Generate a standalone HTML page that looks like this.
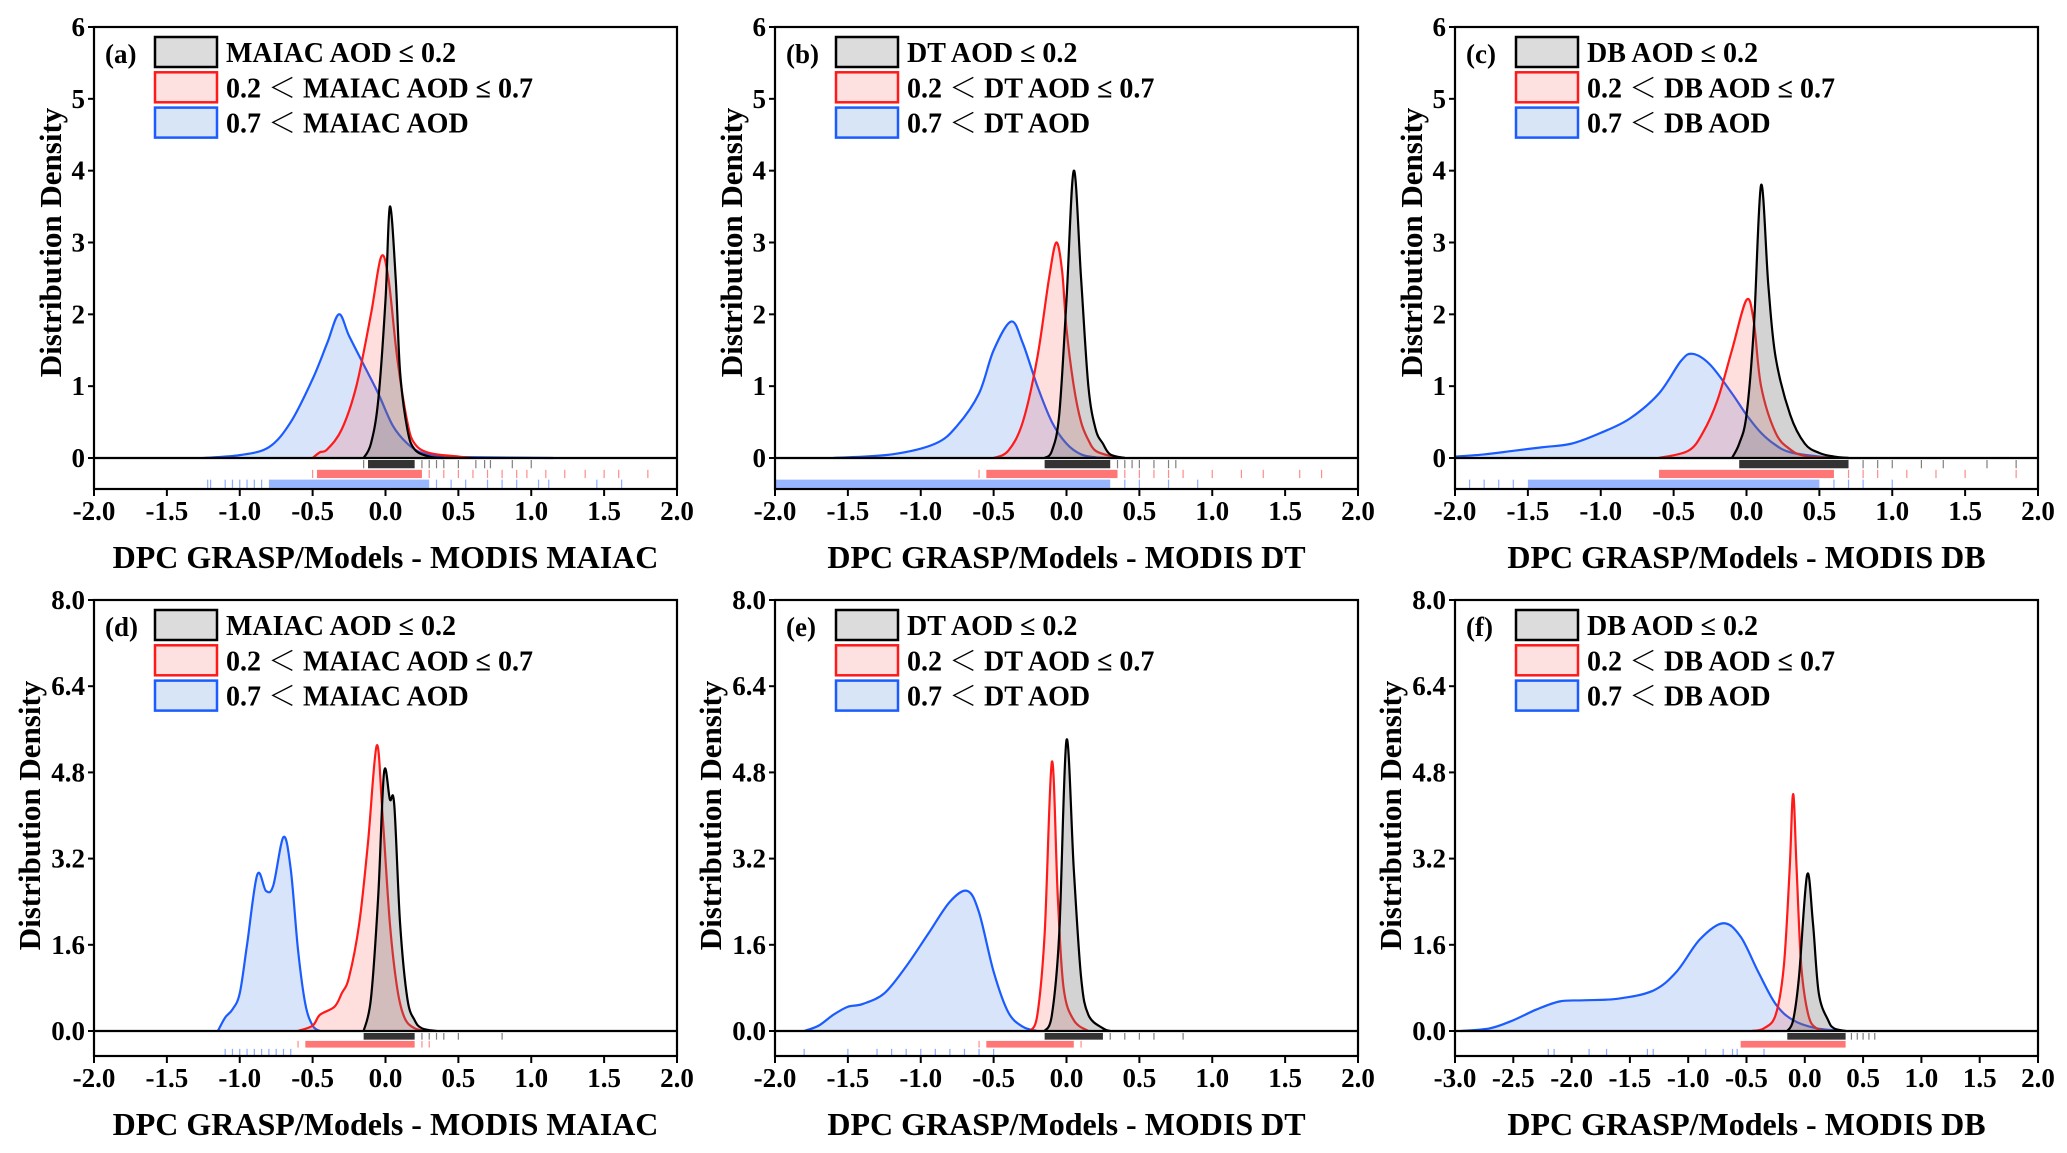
<!DOCTYPE html>
<html><head><meta charset="utf-8">
<style>
html,body{margin:0;padding:0;background:#fff;}
svg{display:block;}
text{font-family:"Liberation Serif","Noto Serif CJK SC",serif;font-weight:bold;fill:#000;}
</style></head>
<body>
<svg id="fig" width="2067" height="1153" viewBox="0 0 2067 1153" xmlns="http://www.w3.org/2000/svg"></svg>
<script>
// ---------- data ----------
const panelLabels = ["(a)","(b)","(c)","(d)","(e)","(f)"];
const productNames = ["MAIAC","DT","DB","MAIAC","DT","DB"];
const xTicksRow = [[-2,-1.5,-1,-0.5,0,0.5,1,1.5,2],[-2,-1.5,-1,-0.5,0,0.5,1,1.5,2],[-2,-1.5,-1,-0.5,0,0.5,1,1.5,2],
  [-2,-1.5,-1,-0.5,0,0.5,1,1.5,2],[-2,-1.5,-1,-0.5,0,0.5,1,1.5,2],[-3,-2.5,-2,-1.5,-1,-0.5,0,0.5,1,1.5,2]];
const yTicksTop = [0,1,2,3,4,5,6];
const yTicksBottom = [0,1.6,3.2,4.8,6.4,8.0];

// KDE curves [x, density]
const blackA=[[-0.15,0],[-0.1,0.2],[-0.05,0.8],[0,2.2],[0.03,3.5],[0.07,2.5],[0.1,1.2],[0.15,0.4],[0.2,0.12],[0.3,0.02],[0.4,0]];
const redA=[[-0.5,0],[-0.45,0.08],[-0.4,0.12],[-0.3,0.4],[-0.2,1.0],[-0.1,2.0],[-0.03,2.8],[0.02,2.5],[0.08,1.4],[0.15,0.5],[0.2,0.2],[0.3,0.07],[0.5,0.02],[0.6,0]];
const blueA=[[-1.25,0],[-1.0,0.04],[-0.8,0.15],[-0.65,0.5],[-0.5,1.1],[-0.4,1.6],[-0.32,2.0],[-0.25,1.7],[-0.15,1.3],[-0.05,0.9],[0.05,0.45],[0.15,0.2],[0.25,0.07],[0.4,0.02],[0.6,0.01],[1.15,0]];
const blackB=[[-0.15,0],[-0.1,0.1],[-0.05,0.6],[0,2.2],[0.05,4.0],[0.1,2.5],[0.15,1.0],[0.2,0.4],[0.25,0.2],[0.3,0.05],[0.4,0]];
const redB=[[-0.5,0],[-0.4,0.1],[-0.3,0.5],[-0.2,1.4],[-0.12,2.5],[-0.07,3.0],[-0.03,2.6],[0,1.8],[0.05,1.0],[0.1,0.5],[0.15,0.25],[0.2,0.1],[0.3,0.03],[0.4,0]];
const blueB=[[-1.6,0],[-1.2,0.05],[-0.9,0.2],[-0.75,0.45],[-0.6,0.9],[-0.5,1.5],[-0.38,1.9],[-0.3,1.6],[-0.2,1.0],[-0.1,0.5],[0,0.2],[0.1,0.05],[0.2,0.01],[0.3,0]];
const blackC=[[-0.1,0],[-0.05,0.2],[0,0.6],[0.05,1.8],[0.1,3.8],[0.15,2.4],[0.2,1.4],[0.3,0.6],[0.4,0.2],[0.5,0.07],[0.6,0.02],[0.7,0]];
const redC=[[-0.6,0],[-0.4,0.1],[-0.3,0.35],[-0.2,0.8],[-0.1,1.5],[0,2.2],[0.05,1.9],[0.1,1.0],[0.2,0.35],[0.3,0.12],[0.4,0.03],[0.6,0]];
const blueC=[[-2.0,0.02],[-1.8,0.05],[-1.6,0.1],[-1.4,0.15],[-1.2,0.2],[-1.0,0.35],[-0.8,0.55],[-0.6,0.9],[-0.45,1.35],[-0.37,1.45],[-0.25,1.3],[-0.1,0.9],[0,0.6],[0.1,0.35],[0.2,0.18],[0.3,0.08],[0.5,0.02],[0.7,0]];
const blackD=[[-0.15,0],[-0.1,0.6],[-0.05,2.5],[-0.01,4.8],[0.03,4.3],[0.06,4.2],[0.1,2.0],[0.15,0.6],[0.2,0.2],[0.25,0.05],[0.35,0]];
const redD=[[-0.6,0],[-0.5,0.1],[-0.45,0.3],[-0.35,0.45],[-0.3,0.7],[-0.25,1.0],[-0.18,2.0],[-0.12,3.5],[-0.06,5.3],[-0.02,4.0],[0.03,2.0],[0.08,0.8],[0.13,0.25],[0.2,0.05],[0.3,0]];
const blueD=[[-1.15,0],[-1.1,0.25],[-1.05,0.4],[-1.0,0.7],[-0.95,1.6],[-0.88,2.9],[-0.82,2.6],[-0.77,2.7],[-0.7,3.6],[-0.65,3.0],[-0.6,1.5],[-0.55,0.5],[-0.5,0.1],[-0.45,0]];
const blackE=[[-0.15,0],[-0.1,0.3],[-0.05,1.8],[0,5.4],[0.05,3.0],[0.1,1.0],[0.15,0.3],[0.25,0.05],[0.3,0]];
const redE=[[-0.25,0],[-0.2,0.3],[-0.15,1.8],[-0.1,5.0],[-0.06,2.5],[-0.02,0.8],[0.05,0.2],[0.15,0]];
const blueE=[[-1.8,0],[-1.7,0.1],[-1.6,0.3],[-1.5,0.45],[-1.4,0.5],[-1.25,0.7],[-1.1,1.2],[-0.95,1.8],[-0.8,2.4],[-0.68,2.6],[-0.6,2.2],[-0.5,1.1],[-0.4,0.35],[-0.3,0.08],[-0.2,0]];
const blackF=[[-0.15,0],[-0.1,0.2],[-0.05,1.0],[0.02,2.9],[0.07,2.0],[0.12,0.7],[0.2,0.2],[0.25,0.05],[0.35,0]];
const redF=[[-0.45,0],[-0.35,0.05],[-0.25,0.3],[-0.18,1.2],[-0.13,3.0],[-0.1,4.4],[-0.07,3.0],[-0.03,1.2],[0.03,0.3],[0.1,0.05],[0.2,0]];
const blueF=[[-2.95,0],[-2.7,0.05],[-2.5,0.2],[-2.3,0.4],[-2.1,0.55],[-1.9,0.57],[-1.6,0.6],[-1.3,0.75],[-1.1,1.1],[-0.9,1.7],[-0.7,2.0],[-0.55,1.75],[-0.4,1.1],[-0.25,0.5],[-0.1,0.2],[0.1,0.05],[0.35,0]];

// rug: dense bands [lo,hi] and individual ticks
const rugBandBlack=[[-0.12,0.2],[-0.15,0.3],[-0.05,0.7],[-0.15,0.2],[-0.15,0.25],[-0.15,0.35]];
const rugBandRed=[[-0.47,0.25],[-0.55,0.35],[-0.6,0.6],[-0.55,0.2],[-0.55,0.05],[-0.55,0.35]];
const rugBandBlue=[[-0.8,0.3],[-2.0,0.3],[-1.5,0.5],null,null,null];
const rugBlack=[[-0.15,0.25,0.3,0.35,0.4,0.5,0.62,0.68,0.72,0.87,1.0],[0.35,0.4,0.45,0.5,0.6,0.7,0.75],[0.8,0.9,1.0,1.2,1.35,1.65,1.85],[0.25,0.3,0.35,0.4,0.5,0.8],[0.3,0.4,0.5,0.6,0.8],[0.4,0.45,0.5,0.55,0.6]];
const rugRed=[[-0.5,0.3,0.4,0.5,0.6,0.7,0.8,0.9,0.97,1.1,1.23,1.37,1.5,1.6,1.8],[-0.6,0.4,0.5,0.6,0.7,0.8,1.0,1.2,1.35,1.6,1.75],[0.7,0.8,0.9,1.1,1.3,1.5,1.85],[-0.6,0.25,0.3],[-0.6,0.1],[]];
const rugBlue=[[-1.22,-1.2,-1.1,-1.05,-1.0,-0.95,-0.9,-0.85,0.35,0.45,0.55,0.7,0.8,0.9,1.05,1.12,1.45,1.62],[0.4,0.5,0.7,0.9],[-2.0,-1.9,-1.8,-1.7,-1.6,0.6,0.7,0.8,1.0],[-1.1,-1.05,-1.0,-0.95,-0.9,-0.85,-0.8,-0.75,-0.7,-0.65],[-1.8,-1.5,-1.3,-1.2,-1.1,-1.0,-0.9,-0.8,-0.7,-0.6,-0.5],[-2.2,-2.15,-1.85,-1.7,-1.35,-1.3,-0.85,-0.7,-0.62,-0.58,-0.35]];

const curves=[[blueA,redA,blackA],[blueB,redB,blackB],[blueC,redC,blackC],[blueD,redD,blackD],[blueE,redE,blackE],[blueF,redF,blackF]];
const xDomains=[[-2,2],[-2,2],[-2,2],[-2,2],[-2,2],[-3,2]];
const yMax=[6,6,6,8,8,8];

// ---------- layout ----------
const NS="http://www.w3.org/2000/svg";
const svg=document.getElementById('fig');
const colX=[[94,677],[775,1358],[1455,2038]];
const rowY=[{top:27,zero:458,bot:489},{top:600,zero:1031,bot:1056}];
const colors={blue:{stroke:"#1a5cff",fill:"rgba(60,120,225,0.2)"},red:{stroke:"#ff1a1a",fill:"rgba(255,60,60,0.17)"},black:{stroke:"#000",fill:"rgba(110,110,110,0.3)"}};
const bandOpacity={black:0.8,red:0.6,blue:0.45};
const order=["blue","red","black"];

function el(tag,attrs,parent){const e=document.createElementNS(NS,tag);for(const k in attrs)e.setAttribute(k,attrs[k]);(parent||svg).appendChild(e);return e;}
function smoothPath(pts){
  let d="M"+pts[0][0].toFixed(2)+","+pts[0][1].toFixed(2);
  for(let i=0;i<pts.length-1;i++){
    const p0=pts[Math.max(0,i-1)],p1=pts[i],p2=pts[i+1],p3=pts[Math.min(pts.length-1,i+2)];
    const c1=[p1[0]+(p2[0]-p0[0])/6,p1[1]+(p2[1]-p0[1])/6];
    const c2=[p2[0]-(p3[0]-p1[0])/6,p2[1]-(p3[1]-p1[1])/6];
    d+=" C"+c1[0].toFixed(2)+","+c1[1].toFixed(2)+" "+c2[0].toFixed(2)+","+c2[1].toFixed(2)+" "+p2[0].toFixed(2)+","+p2[1].toFixed(2);
  }
  return d;
}

for(let p=0;p<6;p++){
  const col=colX[p%3],row=rowY[Math.floor(p/3)];
  const [x0,x1]=col;const dom=xDomains[p];
  const xs=v=>x0+(v-dom[0])/(dom[1]-dom[0])*(x1-x0);
  const ys=v=>row.zero-v/yMax[p]*(row.zero-row.top);
  const g=el('g',{});
  
  

  curves[p].forEach((c,ci)=>{
    const key=order[ci];
    const pts=c.map(d=>[xs(d[0]),Math.min(ys(d[1]),row.zero)]);
    const dLine=smoothPath(pts);
    const area=el('path',{d:dLine+" L"+pts[pts.length-1][0].toFixed(2)+","+row.zero+" L"+pts[0][0].toFixed(2)+","+row.zero+" Z",fill:colors[key].fill,stroke:"none"},g);
    
    
    const line=el('path',{d:dLine,fill:"none",stroke:colors[key].stroke,"stroke-width":2.2},g);
    
    
  });

  const rugRows=[{key:"black",band:rugBandBlack[p],ticks:rugBlack[p],off:0},{key:"red",band:rugBandRed[p],ticks:rugRed[p],off:1},{key:"blue",band:rugBandBlue[p],ticks:rugBlue[p],off:2}];
  const rh=(row.bot-row.zero)/3;
  rugRows.forEach(r=>{
    const yA=row.zero+2+r.off*rh*0.95, h=rh*0.8;
    const rg=el('g',{},g);
    
    
    const c=colors[r.key].stroke;
    if(r.band){el('rect',{x:xs(r.band[0]),y:yA,width:xs(r.band[1])-xs(r.band[0]),height:h,fill:c,opacity:bandOpacity[r.key]},rg);}
    r.ticks.forEach(v=>{el('line',{x1:xs(v),x2:xs(v),y1:yA,y2:yA+h,stroke:c,"stroke-width":1.2,opacity:0.5},rg);});
  });

  const fr=el('rect',{x:x0,y:row.top,width:x1-x0,height:row.bot-row.top,fill:"none",stroke:"#000","stroke-width":2.2},g);
  
  
  const zl=el('line',{x1:x0,x2:x1,y1:row.zero,y2:row.zero,stroke:"#000","stroke-width":2.2},g);
  
  

  const yt=p<3?yTicksTop:yTicksBottom;
  yt.forEach(v=>{
    const y=ys(v);
    el('line',{x1:x0-6,x2:x0,y1:y,y2:y,stroke:"#000","stroke-width":2},g);
    const t=el('text',{x:x0-9,y:y+9,"text-anchor":"end","font-size":27},g);
    t.textContent=p<3?String(v):v.toFixed(1);
    
    
  });
  xTicksRow[p].forEach(v=>{
    const x=xs(v);
    el('line',{x1:x,x2:x,y1:row.bot,y2:row.bot+7,stroke:"#000","stroke-width":2},g);
    const t=el('text',{x:x,y:row.bot+31,"text-anchor":"middle","font-size":27},g);
    t.textContent=v.toFixed(1);
    
    
  });
  const xt=el('text',{x:(x0+x1)/2,y:row.bot+79,"text-anchor":"middle","font-size":32},g);
  xt.textContent="DPC GRASP/Models - MODIS "+productNames[p];
  
  
  const ytx=x0-(p<3?33:54), yc=(row.top+row.zero)/2;
  const yl=el('text',{x:ytx,y:yc,"text-anchor":"middle","font-size":31,transform:"rotate(-90 "+ytx+" "+yc+")"},g);
  yl.textContent="Distribution Density";
  
  

  const pl=el('text',{x:x0+11,y:row.top+36,"font-size":27},g);
  pl.textContent=panelLabels[p];
  
  

  const nm=productNames[p];
  const legTexts=[nm+" AOD \u2264 0.2","0.2 \uFF1C "+nm+" AOD \u2264 0.7","0.7 \uFF1C "+nm+" AOD"];
  const legKeys=["black","red","blue"];
  const lg=el('g',{},g);
  
  
  legKeys.forEach((k,i)=>{
    const by=row.top+10+i*35.3;
    const solidFill=k==="black"?"#dcdcdc":(k==="red"?"#fde0e0":"#d8e5f7");
    const r=el('rect',{x:x0+61,y:by,width:62,height:30,fill:solidFill,stroke:colors[k].stroke,"stroke-width":2.5},lg);
    
    
    const t=el('text',{x:x0+132,y:by+25,"font-size":28},lg);
    t.textContent=legTexts[i];
    
    
  });
}
</script>
</body></html>
